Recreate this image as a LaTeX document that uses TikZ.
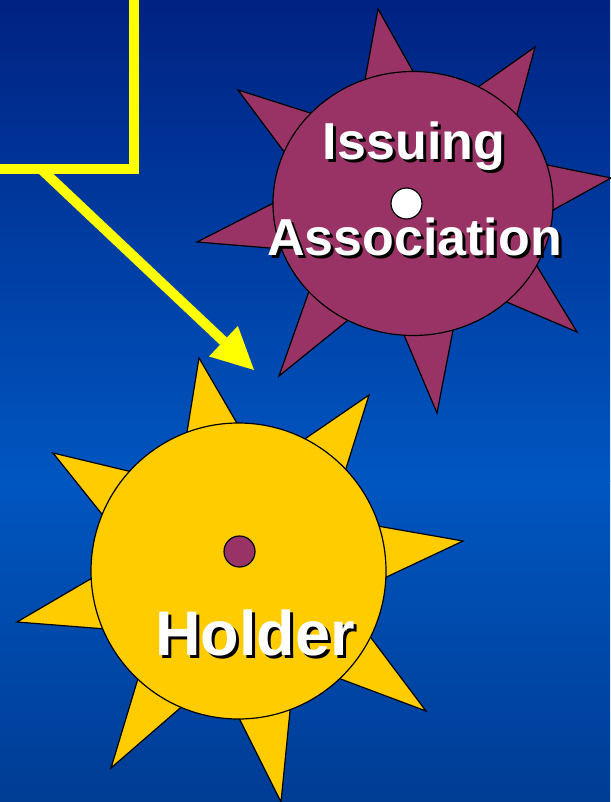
\documentclass[tikz,border=0pt]{standalone}
\usepackage{fontspec}
\setmainfont{Liberation Sans}
\usetikzlibrary{shapes.geometric,arrows.meta,calc}
\definecolor{bgtop}{RGB}{0,34,130}
\definecolor{bgmid}{RGB}{0,86,192}
\definecolor{bgbot}{RGB}{0,60,148}
\definecolor{plum}{RGB}{153,51,102}
\definecolor{gold}{RGB}{255,204,0}
\definecolor{lemon}{RGB}{255,255,0}
\begin{document}
\begin{tikzpicture}[x=1pt,y=-1pt,
  outl/.style={draw=black,line width=1.2pt,line join=miter},
  disc/.style={outl,ellipse,inner sep=0pt},
  dot/.style={outl,circle,inner sep=0pt,minimum size=31pt},
  lbl/.style={inner sep=0pt,anchor=base,font=\bfseries\fontsize{52}{52}\selectfont},
  biglbl/.style={inner sep=0pt,anchor=base,font=\bfseries\fontsize{63}{63}\selectfont},
  shadowtxt/.style={text=black},
  whitetxt/.style={text=white},
  yline/.style={draw=lemon,line width=10pt}]
\useasboundingbox (0,0) rectangle (610,802);
% background
\shade[top color=bgtop,bottom color=bgmid] (0,0) rectangle (610,481);
\shade[top color=bgmid,bottom color=bgbot] (0,480) rectangle (610,802);

% purple sun
\coordinate (pcc) at (413,203.5);
\foreach \tx/\ty/\a in {378/9/-100, 535/47/-52, 611/178/-7, 577/332/38, 437/413/83.5, 279/376/128, 197/242/170, 238/90/213}
  \path[outl,fill=plum] (\tx,\ty) -- ($(pcc)+(\a-11:136 and 128)$) -- ($(pcc)+(\a+11:136 and 128)$) -- cycle;
\node[disc,fill=plum,minimum width=280pt,minimum height=264pt] (pc) at (pcc) {};
\node[dot,fill=white] (pdot) at (406.5,203.5) {};

% yellow sun
\coordinate (ycc) at (238.5,571);
\foreach \tx/\ty/\a in {199/358/-100.5, 369/395/-53.4, 463/541/-7.6, 426/711/36.7, 281/802/79.6, 111/768/122.9, 17/622/167, 53/453/212.5}
  \path[outl,fill=gold] (\tx,\ty) -- ($(ycc)+(\a-11:143 and 143)$) -- ($(ycc)+(\a+11:143 and 143)$) -- cycle;
\node[disc,fill=gold,minimum width=295pt,minimum height=296pt] (yc) at (ycc) {};
\node[dot,fill=plum] (ydot) at (239.5,551.5) {};

% labels
\node[lbl,shadowtxt] at (417,163) {Issuing};
\node[lbl,whitetxt] (issuing) at (414,160) {Issuing};
\node[lbl,shadowtxt] at (417.5,258) {Association};
\node[lbl,whitetxt] (assoc) at (414.5,255) {Association};
\node[biglbl,shadowtxt] at (258,658) {Holder};
\node[biglbl,whitetxt] (holder) at (255,655) {Holder};

% arrow and box
\coordinate (astart) at (41,169);
\coordinate (atip) at (254,370);
\draw[yline,-{Triangle[length=42pt,width=42pt,line width=0pt]}] (astart) -- (atip);
\coordinate (boxtop) at (134,0);
\coordinate (boxleft) at (0,169);
\draw[yline,line join=miter] (boxtop) |- (boxleft);
\end{tikzpicture}
\end{document}
